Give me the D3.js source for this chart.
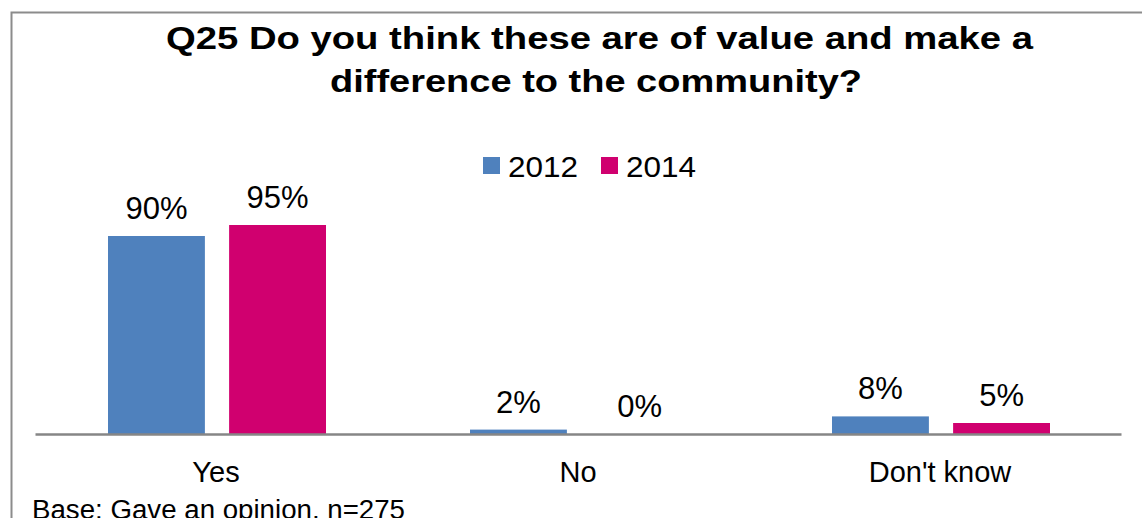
<!DOCTYPE html>
<html>
<head>
<meta charset="utf-8">
<script src="https://cdn.jsdelivr.net/npm/d3@7"></script>
<style>
  html, body { margin: 0; padding: 0; background: #fff; }
  svg { display: block; font-family: "Liberation Sans", Arial, sans-serif; }
</style>
</head>
<body>
<svg id="chart" width="1142" height="518"></svg>
<script>
// Survey answers, percentage of respondents
const categories = ["Yes", "No", "Don't know"];
const years = ["2012", "2014"];
const values2012 = [90, 2, 8];
const values2014 = [95, 0, 5];
const colors = ["#4F81BD", "#D0006F"];
const titleLines = ["Q25 Do you think these are of value and make a", "difference to the community?"];
const baseNote = "Base: Gave an opinion, n=275";

const svg = d3.select("#chart");
const W = 1142, H = 518;

// Outer frame (left and top edges visible)
svg.append("path")
  .attr("d", `M11.5,${H} L11.5,12.5 L${W},12.5`)
  .attr("fill", "none").attr("stroke", "#8C8C8C").attr("stroke-width", 2);

// Title, two centred lines with wide bold lettering
const titleLayout = [{ cx: 599.5, y: 48.5, len: 867 }, { cx: 596, y: 92, len: 532 }];
svg.append("g").selectAll("text").data(titleLines).join("text")
  .attr("x", (d, i) => titleLayout[i].cx - titleLayout[i].len / 2)
  .attr("y", (d, i) => titleLayout[i].y)
  .attr("textLength", (d, i) => titleLayout[i].len)
  .attr("lengthAdjust", "spacingAndGlyphs")
  .attr("font-weight", "bold").attr("font-size", 32)
  .attr("fill", "#000")
  .text(d => d);

// Scales
const x0 = d3.scaleBand().domain(categories).range([35, 1121]).paddingInner(0).paddingOuter(0);
const x1 = d3.scaleBand().domain(years).range([0, 218]).paddingInner(0.2);
const y = d3.scaleLinear().domain([0, 100]).range([434, 214]);

const rows = categories.map((c, i) => ({ cat: c, vals: [values2012[i], values2014[i]] }));

const groups = svg.append("g").selectAll("g").data(rows).join("g")
  .attr("transform", d => `translate(${x0(d.cat) + x0.bandwidth() / 2 - 108},0)`);

groups.selectAll("rect").data(d => d.vals.map((v, j) => ({ v, year: years[j], j }))).join("rect")
  .attr("x", d => x1(d.year))
  .attr("width", x1.bandwidth())
  .attr("y", d => y(d.v))
  .attr("height", d => y(0) - y(d.v))
  .attr("fill", d => colors[d.j]);

// Value labels
groups.selectAll("text").data(d => d.vals.map((v, j) => ({ v, year: years[j], j }))).join("text")
  .attr("x", d => x1(d.year) + x1.bandwidth() / 2)
  .attr("y", d => y(d.v) - 17)
  .attr("text-anchor", "middle")
  .attr("font-size", 31)
  .attr("fill", "#000")
  .text(d => d.v + "%");

// Category axis
const axis = svg.append("g").attr("transform", `translate(0,${y(0)})`)
  .call(d3.axisBottom(x0).tickSize(0).tickPadding(0));
axis.select(".domain").attr("stroke", "#868686").attr("stroke-width", 2.5);
axis.selectAll(".tick text")
  .attr("font-family", "Liberation Sans, Arial, sans-serif")
  .attr("font-size", 29).attr("fill", "#000")
  .attr("dy", 0).attr("y", 47.5);

// Legend
const legend = svg.append("g").attr("transform", "translate(483,157)");
const li = legend.selectAll("g").data(years).join("g")
  .attr("transform", (d, i) => `translate(${i * 118},0)`);
li.append("rect").attr("width", 17).attr("height", 17).attr("fill", (d, i) => colors[i]);
li.append("text").attr("x", 25).attr("y", 19.5)
  .attr("font-size", 30).attr("textLength", 70).attr("lengthAdjust", "spacingAndGlyphs")
  .attr("fill", "#000").text(d => d);

// Base note along the bottom edge
svg.append("text").attr("x", 32).attr("y", 518.5)
  .attr("font-size", 27).attr("textLength", 373).attr("lengthAdjust", "spacingAndGlyphs")
  .attr("fill", "#000").text(baseNote);
</script>
</body>
</html>
